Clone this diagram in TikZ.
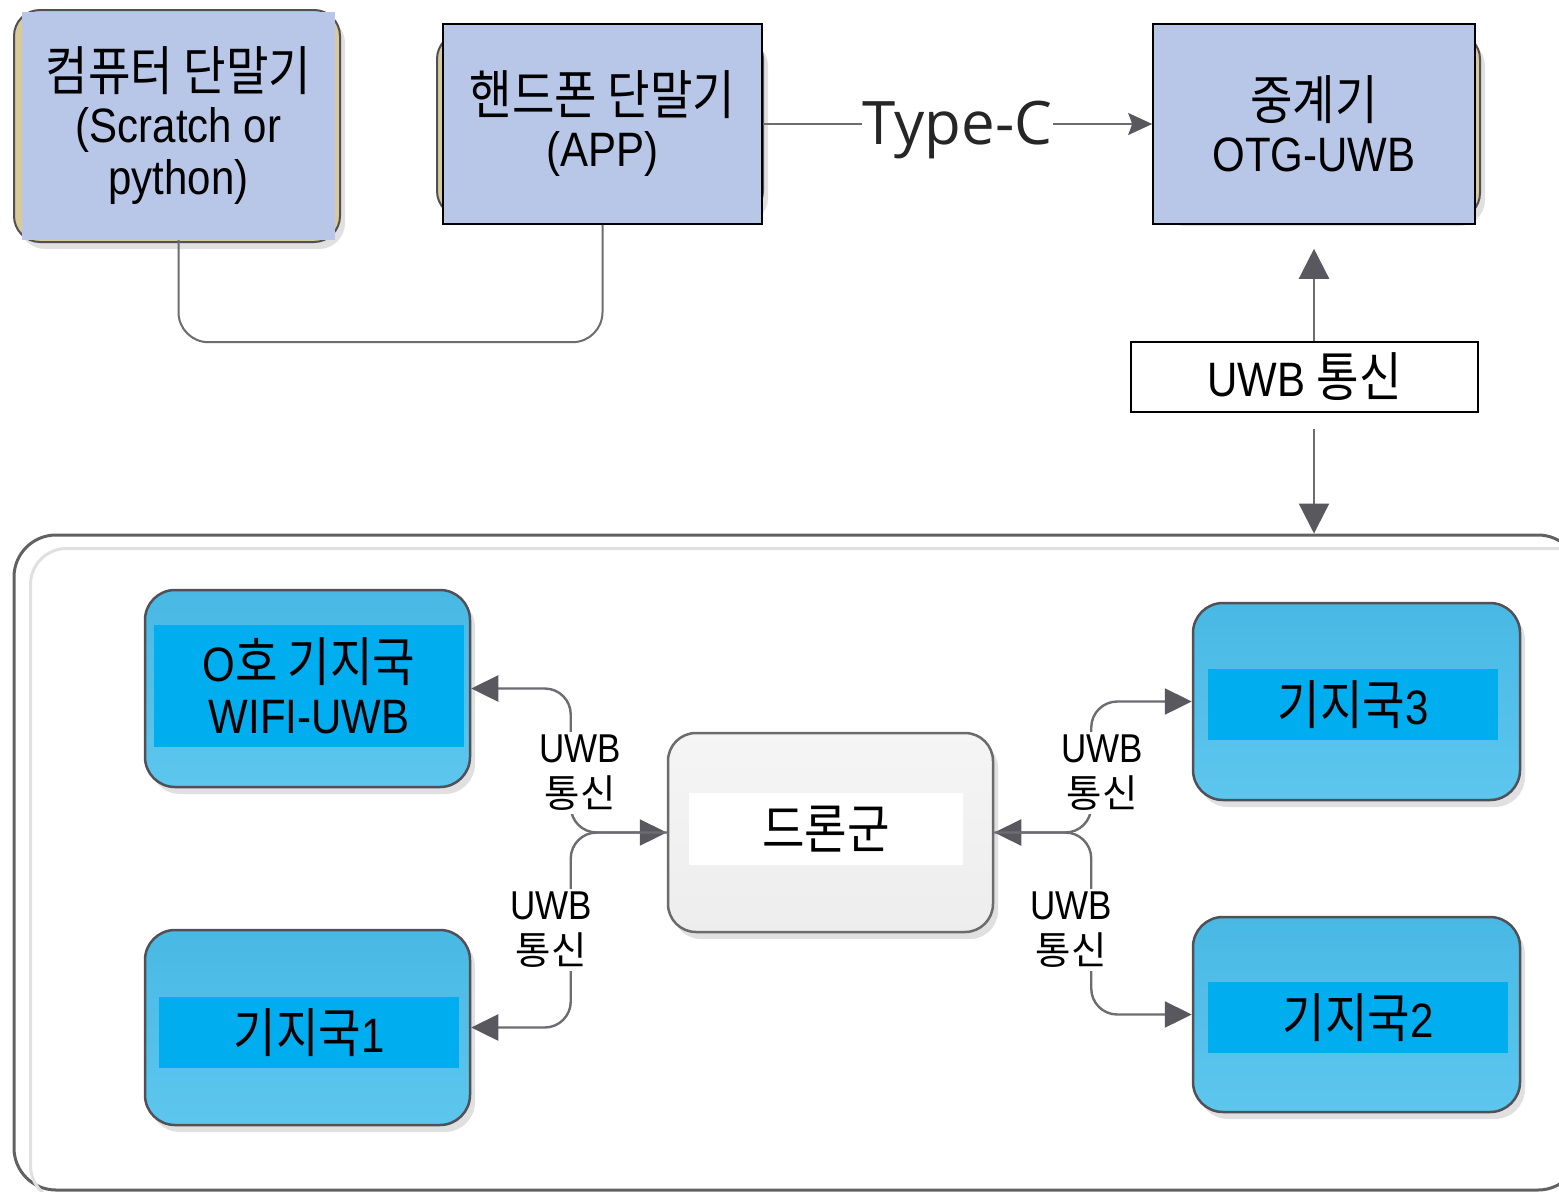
\documentclass[tikz,border=0pt]{standalone}
\usepackage{fontspec}
\usepackage{graphicx}
\setmainfont{Liberation Sans}
\newfontfamily\kr[Scale=1.1]{Noto Sans CJK KR}
\newfontfamily\op{Open Sans}
\usetikzlibrary{arrows.meta,shadows,calc}
\definecolor{topblue}{HTML}{B8C7E8}
\definecolor{tan}{HTML}{D8CB98}
\definecolor{bdark}{HTML}{505056}
\definecolor{conn}{HTML}{6C6C72}
\definecolor{tipc}{HTML}{58585E}
\definecolor{bblueA}{HTML}{48B9E4}
\definecolor{bblueB}{HTML}{5DC6EE}
\definecolor{binner}{HTML}{00AEEF}
\newcommand\tl[1]{\scalebox{1}[1.15]{#1}}
\tikzset{
  shad/.style={drop shadow={shadow xshift=5pt, shadow yshift=-7pt, opacity=0.12, fill=black}},
  tanbox/.style={rectangle, rounded corners=26pt, fill=tan, draw=bdark, line width=2pt, shad},
  topbox/.style={rectangle, fill=topblue, inner sep=0pt, align=center, font=\fontsize{42}{52}\selectfont},
  edgebox/.style={topbox, draw=black, line width=1.6pt},
  bluebox/.style={rectangle, rounded corners=30pt, top color=bblueA, bottom color=bblueB, draw=bdark, line width=2.5pt, shad},
  innerbox/.style={rectangle, fill=binner, inner sep=0pt, align=center, font=\fontsize{42}{52}\selectfont},
  greybox/.style={rectangle, rounded corners=28pt, top color=black!4, bottom color=black!7, draw=black!58, line width=2.5pt, shad},
  lab/.style={fill=white, inner sep=3pt, align=center, font=\fontsize{35}{45}\selectfont},
  cline/.style={draw=conn, line width=2.4pt, rounded corners=26pt},
  btip/.tip={Triangle[width=26pt,length=27pt,fill=tipc,color=tipc]},
  ttip/.tip={Triangle[width=30pt,length=30pt,fill=tipc,color=tipc]},
  stip/.tip={Stealth[width=22pt,length=24pt,inset=4pt,fill=tipc,color=tipc]},
}
\begin{document}
\begin{tikzpicture}[x=1pt,y=-1pt]
\useasboundingbox (0,0) rectangle (1559,1192);
\clip (0,0) rectangle (1559,1192);
\fill[white] (0,0) rectangle (1559,1192);

% top boxes
\node[tanbox, minimum width=326pt, minimum height=232pt] (pcb) at (177,126) {};
\node[topbox, minimum width=313pt, minimum height=228pt] (pc) at (178.5,126)
  {\tl{\kr 컴퓨터 단말기}\\\tl{(Scratch or}\\\tl{python)}};

\node[tanbox, minimum width=326pt, minimum height=184pt] (phb) at (600,125) {};
\node[edgebox, minimum width=319pt, minimum height=200pt] (phone) at (602.5,124)
  {\tl{\kr 핸드폰 단말기}\\\tl{(APP)}};

\node[tanbox, minimum width=326pt, minimum height=186pt] (rlb) at (1317,126) {};
\node[edgebox, minimum width=322pt, minimum height=200pt] (relay) at (1314,124)
  {\tl{\kr 중계기}\\\tl{OTG-UWB}};

% Type-C
\draw[draw=conn, line width=2pt, -{stip}] (phone.east) -- node[pos=0.5, yshift=-6pt, fill=white, inner sep=1pt, text=black!85, font=\op\fontsize{60}{60}\selectfont] (tc) {Type-C} (relay.west);

% pc - phone
\draw[draw=conn, line width=2pt, rounded corners=30pt] (pc.south) -- ++(0,102) -| (phone.south);

% UWB box
\node[rectangle, draw=black, line width=1.6pt, fill=white, minimum width=347pt, minimum height=70pt, font=\fontsize{42}{52}\selectfont] (uwb) at (1304.5,377) {\tl{UWB {\kr 통신}}};

% container
\node[rectangle, rounded corners=42pt, draw=black!62, line width=3pt, minimum width=1566pt, minimum height=655pt] (grp) at (797,862.5) {};
\draw[black!12, line width=3pt, rounded corners=36pt] ($(grp.north west)+(18,15)$) rectangle ($(grp.south east)+(10,10)$);

\coordinate (up0) at (uwb.north -| relay.south);
\coordinate (dn0) at (uwb.south -| relay.south);
\draw[draw=conn, line width=2.4pt, -{ttip}, shorten >=24pt] (up0) -- (relay.south);
\draw[draw=conn, line width=2.4pt, -{ttip}, shorten <=16pt] (dn0) -- (dn0 |- grp.north);

% bottom boxes
\node[bluebox, minimum width=325pt, minimum height=197pt] (z0) at (307.5,688.5) {};
\node[innerbox, minimum width=310pt, minimum height=122pt] (z0t) at (309,686) {\tl{O{\kr 호 기지국}}\\\tl{WIFI-UWB}};

\node[bluebox, minimum width=325pt, minimum height=195pt] (b1) at (307.5,1027.5) {};
\node[innerbox, minimum width=300pt, minimum height=71pt] (b1t) at (309,1032.5) {\tl{{\kr 기지국}1}};

\node[bluebox, minimum width=327pt, minimum height=197pt] (b3) at (1356.5,701.5) {};
\node[innerbox, minimum width=290pt, minimum height=71pt] (b3t) at (1353,704.5) {\tl{{\kr 기지국}3}};

\node[bluebox, minimum width=327pt, minimum height=195pt] (b2) at (1356.5,1014.5) {};
\node[innerbox, minimum width=300pt, minimum height=71pt] (b2t) at (1358,1017.5) {\tl{{\kr 기지국}2}};

\node[greybox, minimum width=325pt, minimum height=199pt] (drone) at (830.5,832.5) {};
\node[rectangle, fill=white, inner sep=0pt, minimum width=274pt, minimum height=72pt, font=\fontsize{42}{52}\selectfont] (dt) at (826,829) {\tl{\kr 드론군}};

% connectors
\draw[cline, {btip}-{btip}] (z0.east) -| ($(drone.west)+(-96,0)$) -- (drone.west);
\draw[cline, -{btip}] (drone.west) -- ++(-96,0) |- (b1.east);
\draw[cline, {btip}-{btip}] (drone.east) -- ++(97,0) |- (b3.west);
\draw[cline, -{btip}] (drone.east) -- ++(97,0) |- (b2.west);

\node[lab] (l1) at (580,773) {\tl{UWB}\\{\kr 통신}};
\node[lab] (l2) at (551,930) {\tl{UWB}\\{\kr 통신}};
\node[lab] (r1) at (1102,773) {\tl{UWB}\\{\kr 통신}};
\node[lab] (r2) at (1071,930) {\tl{UWB}\\{\kr 통신}};
\end{tikzpicture}
\end{document}
